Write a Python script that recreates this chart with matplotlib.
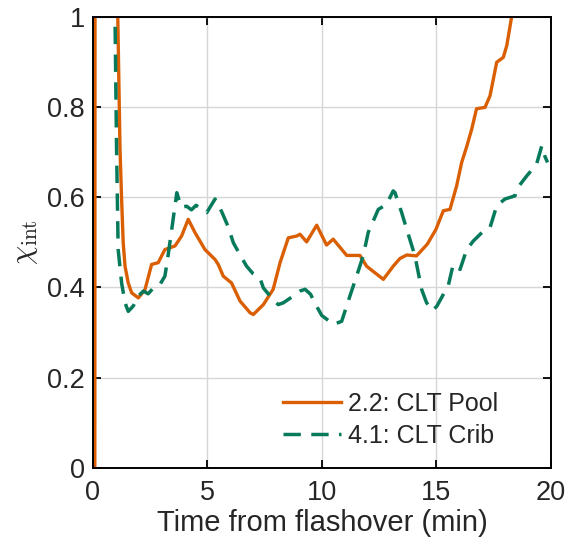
# Integrated chi vs time from flashover: CLT pool (2.2) vs CLT crib (4.1)
import matplotlib
matplotlib.use("Agg")
import matplotlib.pyplot as plt

pool_t = [0.08, 0.09, 1.05, 1.18, 1.25, 1.32, 1.40, 1.54, 1.69, 1.98, 2.27, 2.56,
          2.85, 3.14, 3.58, 3.87, 4.16, 4.45, 4.89, 5.33, 5.47, 5.69, 6.05, 6.42,
          6.86, 7.0, 7.44, 7.87, 8.17, 8.53, 8.90, 9.04, 9.33, 9.77, 10.2, 10.49,
          11.08, 11.66, 11.95, 12.68, 13.11, 13.4, 13.7, 14.13, 14.6, 14.97, 15.3,
          15.59, 15.88, 16.1, 16.32, 16.54, 16.75, 17.12, 17.34, 17.63, 17.92,
          18.07, 18.28, 18.35]
pool_y = [0.0, 1.1, 1.1, 0.707, 0.596, 0.499, 0.447, 0.41, 0.388, 0.377, 0.395,
          0.451, 0.455, 0.484, 0.492, 0.514, 0.551, 0.522, 0.484, 0.462, 0.451,
          0.425, 0.41, 0.37, 0.344, 0.34, 0.362, 0.396, 0.455, 0.51, 0.514, 0.518,
          0.501, 0.538, 0.494, 0.507, 0.471, 0.471, 0.447, 0.418, 0.447, 0.464,
          0.472, 0.47, 0.496, 0.528, 0.57, 0.573, 0.625, 0.677, 0.712, 0.751,
          0.796, 0.799, 0.825, 0.899, 0.91, 0.936, 0.999, 1.1]

crib_t = [0.95, 1.03, 1.1, 1.25, 1.4, 1.54, 1.76, 1.98, 2.2, 2.41, 2.71, 2.93,
          3.14, 3.25, 3.44, 3.66, 3.85, 4.09, 4.3, 4.5, 4.75, 4.97, 5.33, 5.62,
          5.9, 6.13, 6.49, 6.71, 7.0, 7.29, 7.44, 7.8, 8.09, 8.31, 8.75, 9.04,
          9.26, 9.5, 9.77, 9.99, 10.2, 10.49, 10.86, 11.22, 11.51, 11.8, 12.02,
          12.46, 12.82, 13.11, 13.19, 13.26, 13.48, 13.7, 14.06, 14.35, 14.57,
          14.82, 15.01, 15.25, 15.52, 15.73, 16.03, 16.32, 16.61, 17.05, 17.34,
          17.63, 17.99, 18.43, 18.5, 18.94, 19.37, 19.6, 19.74, 19.85]
crib_y = [1.05, 0.707, 0.484, 0.41, 0.366, 0.347, 0.359, 0.381, 0.392, 0.386,
          0.403, 0.407, 0.425, 0.46, 0.529, 0.61, 0.578, 0.58, 0.572, 0.582,
          0.573, 0.566, 0.596, 0.568, 0.535, 0.499, 0.466, 0.447, 0.43, 0.421,
          0.399, 0.377, 0.362, 0.366, 0.381, 0.392, 0.396, 0.385, 0.358, 0.338,
          0.33, 0.318, 0.325, 0.381, 0.425, 0.47, 0.522, 0.573, 0.584, 0.614,
          0.61, 0.599, 0.566, 0.529, 0.47, 0.396, 0.366, 0.349, 0.358, 0.38,
          0.405, 0.451, 0.44, 0.484, 0.503, 0.525, 0.533, 0.581, 0.596, 0.603,
          0.618, 0.647, 0.673, 0.714, 0.69, 0.677]

labels = ["2.2: CLT Pool", "4.1: CLT Crib"]
xticks = [0, 5, 10, 15, 20]
yticks = [0, 0.2, 0.4, 0.6, 0.8, 1]

plt.rcParams["font.family"] = ["Liberation Sans", "DejaVu Sans"]
plt.rcParams["mathtext.fontset"] = "cm"
txt = "#262626"

fig = plt.figure(figsize=(5.75, 5.45), dpi=100)
ax = fig.add_axes([0.1617, 0.1413, 0.7965, 0.8281])

ax.plot(pool_t, pool_y, "-", color="#D95F02", lw=2.4, label=labels[0])
ax.plot(crib_t, crib_y, color="#077A5B", lw=2.5, ls=(0, (5, 3)), label=labels[1])

ax.set_xlim(0, 20); ax.set_ylim(0, 1)
ax.set_xticks(xticks); ax.set_yticks(yticks)
ax.set_yticklabels(["0", "0.2", "0.4", "0.6", "0.8", "1"])
ax.grid(True, color="#d6d6d6", lw=1.0)
ax.set_axisbelow(True)
ax.tick_params(direction="in", top=True, right=True, length=6, width=1.3,
               labelsize=19.5, labelcolor=txt)
ax.tick_params(axis="x", pad=9)
ax.tick_params(axis="y", pad=6)
for s in ax.spines.values():
    s.set_linewidth(1.4)
ax.set_xlabel("Time from flashover (min)", fontsize=21, labelpad=2, color=txt)
ax.set_ylabel(r"$\chi_{\rm int}$", fontsize=22, labelpad=5, color=txt)

ax.legend(frameon=False, loc="lower right", bbox_to_anchor=(0.885, 0.045),
          fontsize=18, handlelength=2.3, handletextpad=0.3, labelspacing=0.3,
          borderpad=0, borderaxespad=0, labelcolor=txt)

fig.savefig("out.png", dpi=100)
